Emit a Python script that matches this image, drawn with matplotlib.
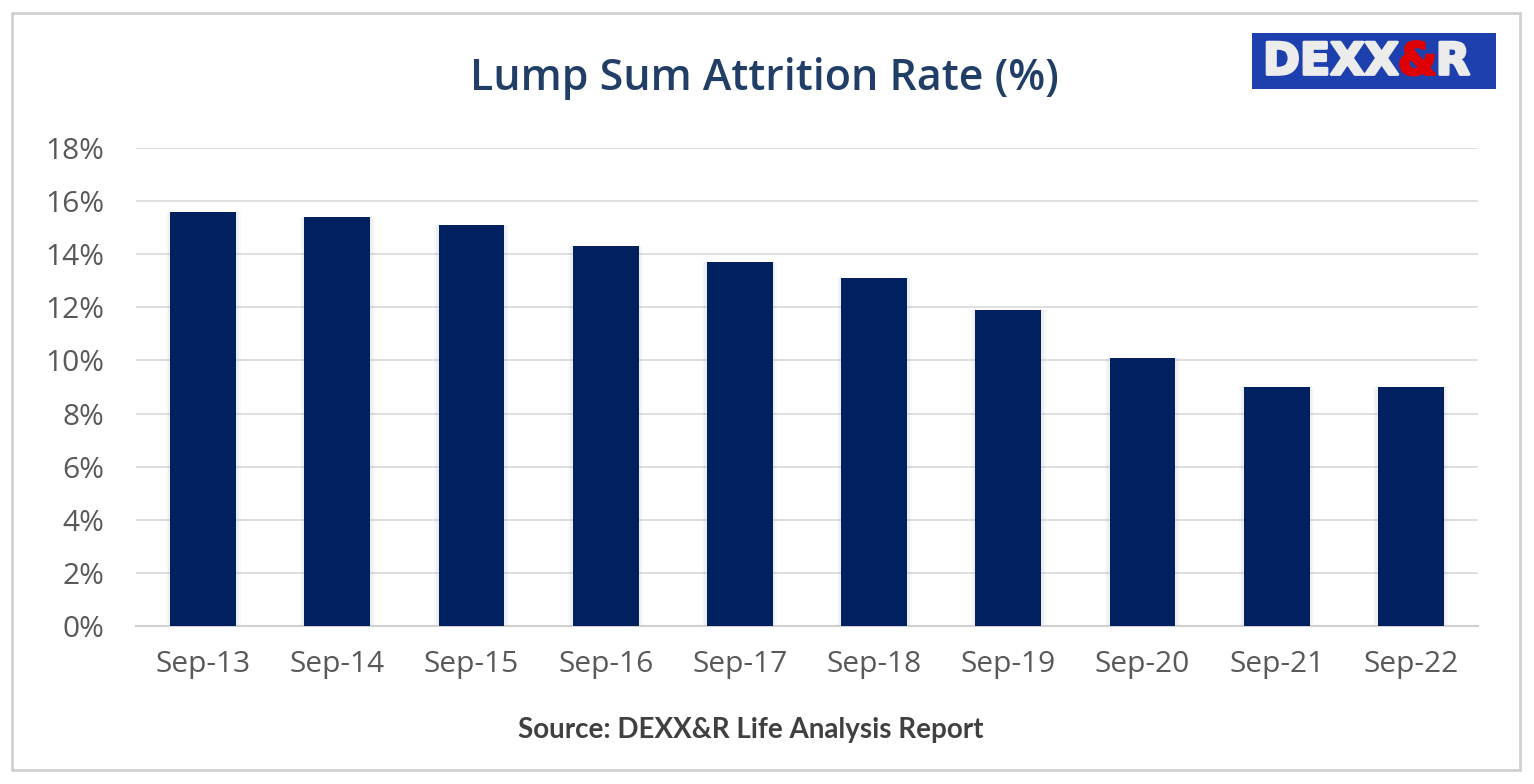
import matplotlib.pyplot as plt
import matplotlib.patheffects as pe
from matplotlib.patches import Rectangle
from matplotlib.ticker import FuncFormatter

plt.rcParams['font.family'] = ['Open Sans', 'DejaVu Sans']

# data
periods = ['Sep-13', 'Sep-14', 'Sep-15', 'Sep-16', 'Sep-17',
           'Sep-18', 'Sep-19', 'Sep-20', 'Sep-21', 'Sep-22']
rates = [15.6, 15.4, 15.1, 14.3, 13.7, 13.1, 11.9, 10.1, 9.0, 9.0]
yticks = [0, 2, 4, 6, 8, 10, 12, 14, 16, 18]

W, H = 1534, 784
fig = plt.figure(figsize=(W / 100, H / 100), dpi=100)
ax = fig.add_axes([136 / W, 1 - 626 / H, 1342 / W, 478 / H])

# outer frame
fig.patches.append(Rectangle((0.008, 0.018), 0.983, 0.965, transform=fig.transFigure,
                             fill=False, edgecolor='#D0D0D0', linewidth=2))

x = range(len(periods))
# soft glow behind the bars
for w, a in [(0.56, 0.05), (0.53, 0.08)]:
    ax.bar(x, rates, width=w, color='#8090C0', alpha=a, zorder=2)
ax.bar(x, rates, width=0.49, color='#002060', zorder=3)

ax.set_xlim(-0.5, 9.5)
ax.set_ylim(0, 18)
ax.set_yticks(yticks)
ax.yaxis.set_major_formatter(FuncFormatter(lambda v, p: f'{v:.0f}%'))
ax.set_xticks(list(x))
ax.set_xticklabels(periods)
ax.tick_params(axis='both', length=0, labelsize=21.5, labelcolor='#595959')
ax.tick_params(axis='x', pad=17)
ax.tick_params(axis='y', pad=23)

ax.grid(axis='y', color='#D9D9D9', linewidth=1.2, zorder=0)
ax.set_axisbelow(True)
for s in ['top', 'right', 'left']:
    ax.spines[s].set_visible(False)
ax.spines['bottom'].set_color('#D0D0D0')
ax.spines['bottom'].set_linewidth(1.5)

fig.text(764 / W, 1 - 78 / H, 'Lump Sum Attrition Rate (%)', ha='center', va='center',
         fontsize=31, fontweight='semibold', color='#203E66')

fig.text(751 / W, 1 - 730 / H, 'Source: DEXX&R Life Analysis Report', ha='center', va='center',
         fontsize=20, fontweight='bold', color='#404040', family=['Lato', 'DejaVu Sans'])

# logo
fig.patches.append(Rectangle((1252 / W, 1 - 89 / H), 244 / W, 56 / H,
                             transform=fig.transFigure, facecolor='#1E3FAE', edgecolor='none'))
fig.canvas.draw()
r = fig.canvas.get_renderer()
lx, ly = 1263 / W, 1 - 62 / H
for part, col in [('DEXX', '#ECECEC'), ('&', '#E00000'), ('R', '#ECECEC')]:
    t = fig.text(lx, ly, part, ha='left', va='center', fontsize=32, fontweight='bold',
                 color=col, family='DejaVu Sans',
                 path_effects=[pe.withStroke(linewidth=2, foreground=col)])
    bb = t.get_window_extent(renderer=r)
    lx = (bb.x1 - 1) / W

fig.savefig('out.png', dpi=100, facecolor='white')
